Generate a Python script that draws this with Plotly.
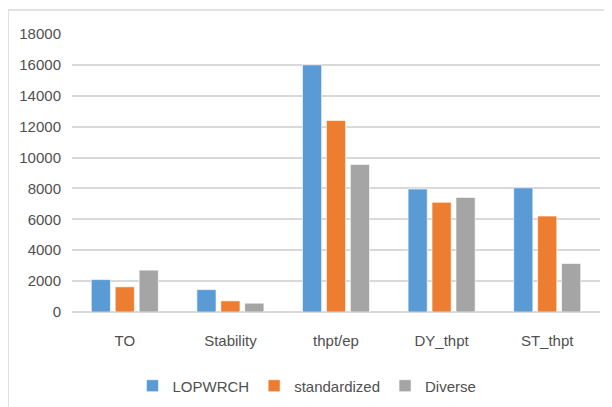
import plotly.graph_objects as go

categories = ["TO", "Stability", "thpt/ep", "DY_thpt", "ST_thpt"]
lopwrch = [2100, 1450, 16000, 7960, 8040]
standardized = [1630, 720, 12400, 7100, 6210]
diverse = [2710, 570, 9550, 7420, 3140]
y_ticks = [0, 2000, 4000, 6000, 8000, 10000, 12000, 14000, 16000, 18000]

FONT = "Liberation Sans Narrow, Arial Narrow, Liberation Sans, Arial, sans-serif"
TXT = "#505050"

fig = go.Figure()
for name, vals, col in [("LOPWRCH", lopwrch, "#5B9BD5"),
                        ("standardized", standardized, "#ED7D31"),
                        ("Diverse", diverse, "#A5A5A5")]:
    fig.add_trace(go.Bar(x=categories, y=vals, name=name,
                         marker=dict(color=col, line=dict(color="rgba(255,255,255,0.6)", width=1))))

fig.update_layout(
    width=612, height=407,
    margin=dict(l=64, r=20, t=26, b=103),
    paper_bgcolor="white", plot_bgcolor="white",
    barmode="group", bargap=0.32, bargroupgap=0.2,
    font=dict(family=FONT, size=15, color=TXT),
    showlegend=True,
    legend=dict(orientation="h", x=0.445, xanchor="center", y=-0.266, yanchor="middle",
                font=dict(family=FONT, size=15, color=TXT), itemwidth=30,
                tracegroupgap=0, bgcolor="rgba(0,0,0,0)"),
    xaxis=dict(showgrid=False, showline=False, zeroline=False, ticks="",
               ticklabelstandoff=18, tickfont=dict(family=FONT, size=15, color=TXT)),
    yaxis=dict(range=[0, 18000], tickvals=y_ticks, tickformat="d", showgrid=True,
               gridcolor="#D9D9D9", gridwidth=1.5, zeroline=True, zerolinecolor="#D9D9D9",
               zerolinewidth=1.5, showline=False, ticks="", ticklabelstandoff=10,
               tickfont=dict(family=FONT, size=15, color=TXT)),
    shapes=[
        dict(type="line", xref="paper", yref="paper", x0=-0.1212, x1=1.06, y0=1.0863, y1=1.0863,
             line=dict(color="#D9D9D9", width=1.5)),
        dict(type="line", xref="paper", yref="paper", x0=-0.1212, x1=-0.1212, y0=1.0863, y1=-0.4,
             line=dict(color="#D9D9D9", width=1.5)),
    ],
)

fig.write_html("out.html")
